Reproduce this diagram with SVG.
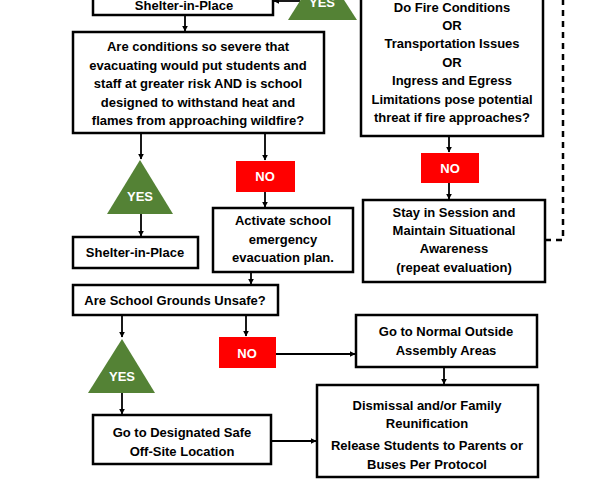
<svg xmlns="http://www.w3.org/2000/svg" width="592" height="494" viewBox="0 0 592 494">
<defs>
<marker id="ah" viewBox="0 0 10 10" refX="9" refY="5" markerWidth="6" markerHeight="6" markerUnits="userSpaceOnUse" orient="auto">
<path d="M0,0 L10,5 L0,10 z" fill="#000"/>
</marker>
</defs>
<style>
.box{fill:#fff;stroke:#000;stroke-width:2.5}
.t{font-family:"Liberation Sans",Arial,sans-serif;font-weight:bold;font-size:13px;fill:#000;text-anchor:middle}
.w{fill:#fff}
.yes{fill:#548235}
.no{fill:#ff0000}
.c{stroke:#000;stroke-width:1.8;fill:none}
.a{marker-end:url(#ah)}
.d{stroke:#000;stroke-width:2.5;fill:none;stroke-dasharray:6 5}
</style>
<rect width="592" height="494" fill="#fff"/>
<g id="connectors">
<line class="c a" x1="300" y1="1" x2="274" y2="1"/>
<line class="c a" x1="185" y1="15" x2="185" y2="31"/>
<line class="c a" x1="141" y1="133" x2="141" y2="159"/>
<line class="c a" x1="265" y1="133" x2="265" y2="160"/>
<line class="c a" x1="141" y1="214" x2="141" y2="236"/>
<line class="c a" x1="265" y1="192" x2="265" y2="207"/>
<line class="c a" x1="251" y1="272" x2="251" y2="284"/>
<line class="c a" x1="122" y1="315" x2="122" y2="337"/>
<line class="c a" x1="246" y1="315" x2="246" y2="336"/>
<line class="c a" x1="122" y1="393" x2="122" y2="414"/>
<line class="c a" x1="276" y1="354" x2="355" y2="354"/>
<line class="c a" x1="444" y1="367" x2="444" y2="384"/>
<line class="c a" x1="271" y1="441" x2="316" y2="441"/>
<line class="c a" x1="449" y1="136" x2="449" y2="152"/>
<line class="c a" x1="449" y1="183" x2="449" y2="199"/>
<polyline class="d" points="545,240 563,240 563,0"/>
</g>
<g id="yes-top">
<polygon class="yes" points="322,-34 357,20 288,20"/>
<text class="t w" x="322" y="7">YES</text>
</g>
<g id="shelter-top">
<rect class="box" x="93" y="-20" width="180" height="35"/>
<text class="t" x="184" y="10">Shelter-in-Place</text>
</g>
<g id="fire-conditions">
<rect class="box" x="361" y="-20" width="182" height="156"/>
<text class="t" x="452" y="12">Do Fire Conditions</text>
<text class="t" x="452" y="30">OR</text>
<text class="t" x="452" y="48">Transportation  Issues</text>
<text class="t" x="452" y="67">OR</text>
<text class="t" x="452" y="85">Ingress and Egress</text>
<text class="t" x="452" y="104">Limitations pose potential</text>
<text class="t" x="452" y="122">threat if fire approaches?</text>
</g>
<g id="conditions-severe">
<rect class="box" x="73" y="32" width="251" height="101"/>
<text class="t" x="198" y="51">Are conditions so severe that</text>
<text class="t" x="198" y="70">evacuating would put students and</text>
<text class="t" x="198" y="88">staff at greater risk AND is school</text>
<text class="t" x="198" y="107">designed to withstand heat and</text>
<text class="t" x="198" y="125">flames from approaching wildfire?</text>
</g>
<g id="no-fire">
<rect class="no" x="421" y="153" width="58" height="30"/>
<text class="t w" x="450" y="173">NO</text>
</g>
<g id="stay-in-session">
<rect class="box" x="363" y="200" width="182" height="82"/>
<text class="t" x="454" y="217">Stay in Session and</text>
<text class="t" x="454" y="235">Maintain Situational</text>
<text class="t" x="454" y="253">Awareness</text>
<text class="t" x="454" y="272">(repeat evaluation)</text>
</g>
<g id="yes-severe">
<polygon class="yes" points="140,160 173,214 107,214"/>
<text class="t w" x="140" y="201">YES</text>
</g>
<g id="no-severe">
<rect class="no" x="236" y="161" width="59" height="31"/>
<text class="t w" x="265" y="181">NO</text>
</g>
<g id="shelter-2">
<rect class="box" x="73" y="237" width="125" height="31"/>
<text class="t" x="135" y="257">Shelter-in-Place</text>
</g>
<g id="activate-plan">
<rect class="box" x="213" y="208" width="140" height="64"/>
<text class="t" x="283" y="225">Activate school</text>
<text class="t" x="283" y="244">emergency</text>
<text class="t" x="283" y="262">evacuation plan.</text>
</g>
<g id="grounds-unsafe">
<rect class="box" x="73" y="285" width="205" height="30"/>
<text class="t" x="175" y="305">Are School Grounds Unsafe?</text>
</g>
<g id="yes-grounds">
<polygon class="yes" points="122,339 155,393 88,393"/>
<text class="t w" x="122" y="381">YES</text>
</g>
<g id="no-grounds">
<rect class="no" x="219" y="337" width="57" height="31"/>
<text class="t w" x="247" y="358">NO</text>
</g>
<g id="normal-assembly">
<rect class="box" x="356" y="315" width="181" height="52"/>
<text class="t" x="446" y="336">Go to Normal Outside</text>
<text class="t" x="446" y="355">Assembly Areas</text>
</g>
<g id="designated-site">
<rect class="box" x="93" y="415" width="178" height="49"/>
<text class="t" x="182" y="437">Go to Designated Safe</text>
<text class="t" x="182" y="456">Off-Site Location</text>
</g>
<g id="dismissal">
<rect class="box" x="317" y="385" width="221" height="92"/>
<text class="t" x="427" y="410">Dismissal and/or Family</text>
<text class="t" x="427" y="428">Reunification</text>
<text class="t" x="427" y="450">Release Students to Parents or</text>
<text class="t" x="427" y="469">Buses Per Protocol</text>
</g>
</svg>
